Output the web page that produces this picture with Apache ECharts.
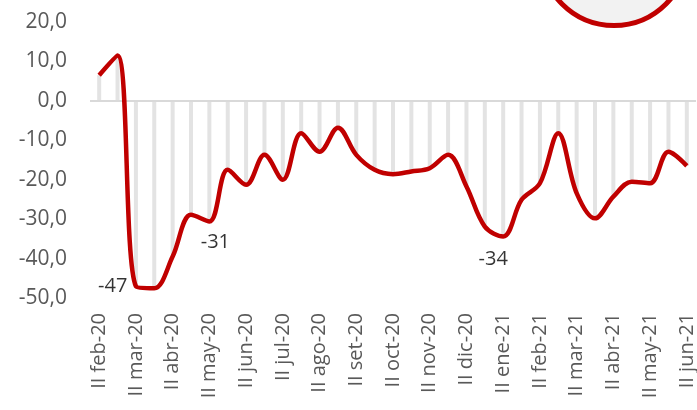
<!DOCTYPE html>
<html>
<head>
<meta charset="utf-8">
<script src="https://cdn.jsdelivr.net/npm/echarts@6/dist/echarts.min.js"></script>
<style>
html, body { margin: 0; padding: 0; background: #fff; }
#chart { width: 697px; height: 410px; }
</style>
</head>
<body>
<div id="chart"></div>
<script>
var categories = [
    'II feb-20', 'I mar-20', 'II mar-20', 'I abr-20', 'II abr-20', 'I may-20', 'II may-20',
    'I jun-20', 'II jun-20', 'I jul-20', 'II jul-20', 'I ago-20', 'II ago-20', 'I set-20',
    'II set-20', 'I oct-20', 'II oct-20', 'I nov-20', 'II nov-20', 'I dic-20', 'II dic-20',
    'I ene-21', 'II ene-21', 'I feb-21', 'II feb-21', 'I mar-21', 'II mar-21', 'I abr-21',
    'II abr-21', 'I may-21', 'II may-21', 'I jun-21', 'II jun-21'
];
var values = [
    6.5, 11.5, -47, -47.5, -39.5, -28.9, -30.6,
    -17.5, -21.3, -13.7, -20, -8.2, -12.9, -6.8,
    -13.7, -17.5, -18.6, -17.9, -17.1, -13.7, -21.7,
    -31.9, -34.4, -25.1, -20.9, -8.2, -23.4, -29.8,
    -24.3, -20.5, -20.9, -12.9, -16.5
];
// points that carry a value label, and where it sits
var labelIndex = [2, 6, 22];
var labelPos = ['left', 'bottom', 'bottom'];
var labelOffset = [[0, 0], [6, 2], [-10, 4]];

var myChart = echarts.init(document.getElementById('chart'));

var labelData = values.map(function (v, i) {
    var k = labelIndex.indexOf(i);
    if (k < 0) return '-';
    return {
        value: v,
        label: { position: labelPos[k], offset: labelOffset[k] }
    };
});

var option = {
    animation: false,
    grid: { left: 90, right: 1, top: 22, bottom: 112 },
    xAxis: {
        type: 'category',
        data: categories,
        axisLine: { show: false },
        axisTick: { show: false },
        axisLabel: {
            interval: 1,
            rotate: 90,
            margin: 15,
            color: '#595959',
            fontSize: 20,
            fontFamily: 'Open Sans'
        }
    },
    yAxis: {
        type: 'value',
        min: -50,
        max: 20,
        interval: 10,
        splitLine: { show: false },
        axisLine: { show: false },
        axisTick: { show: false },
        axisLabel: {
            margin: 23,
            color: '#595959',
            fontSize: 21,
            fontFamily: 'Open Sans',
            formatter: function (v) { return v.toFixed(1).replace('.', ','); }
        }
    },
    graphic: [{
        type: 'circle',
        shape: { cx: 614, cy: -48, r: 73.5 },
        style: { fill: '#f2f2f2', stroke: '#c00000', lineWidth: 5 }
    }],
    series: [
        {
            type: 'bar',
            data: values,
            barWidth: 4,
            itemStyle: { color: '#e3e3e3' },
            silent: true,
            markLine: {
                silent: true,
                symbol: 'none',
                label: { show: false },
                lineStyle: { color: '#d9d9d9', width: 2, type: 'solid' },
                data: [{ yAxis: 0 }]
            }
        },
        {
            type: 'line',
            data: values,
            smooth: 0.35,
            symbol: 'none',
            lineStyle: { color: '#c00000', width: 4.5 },
            z: 5
        },
        {
            type: 'scatter',
            data: labelData,
            symbolSize: 1,
            itemStyle: { color: 'rgba(0,0,0,0)' },
            label: {
                show: true,
                distance: 8,
                color: '#000',
                fontSize: 20,
                fontFamily: 'Open Sans',
                formatter: function (p) { return Math.round(p.value); }
            },
            z: 6
        }
    ]
};
myChart.setOption(option);
</script>
</body>
</html>
